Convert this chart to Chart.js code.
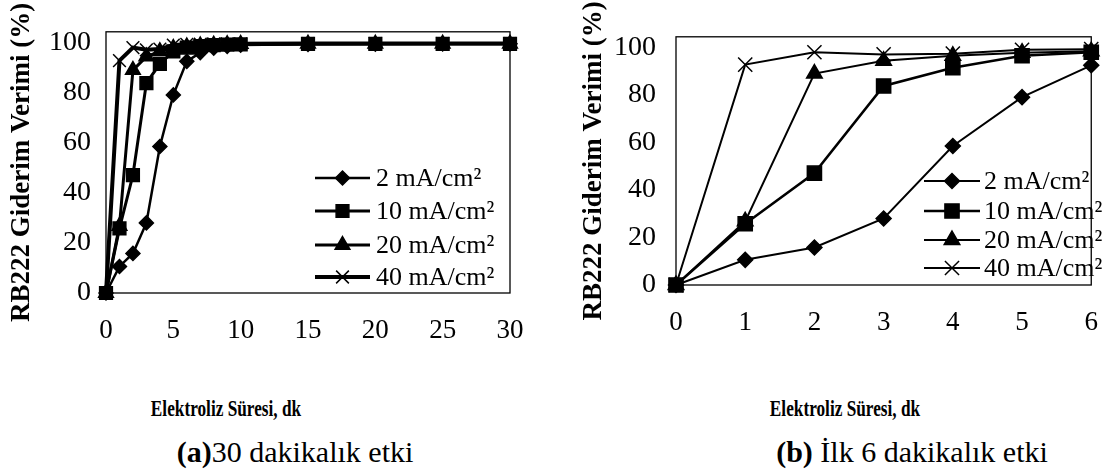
<!DOCTYPE html>
<html><head><meta charset="utf-8">
<script src="https://cdn.jsdelivr.net/npm/chart.js@4.4.1/dist/chart.umd.min.js"></script>
<style>
html,body{margin:0;padding:0;background:#fff;width:1120px;height:472px;overflow:hidden;position:relative;}
canvas{position:absolute;top:0;}
.t{position:absolute;white-space:nowrap;font-family:"Liberation Serif","Times New Roman",serif;color:#000;line-height:1;}
.xt{font-weight:bold;font-size:23px;transform:translate(-50%,-50%) scaleX(0.75);}
.cap{font-size:30px;transform:translate(-50%,-50%);}
</style></head><body>
<canvas id="chartA" width="560" height="350" style="left:0px"></canvas>
<canvas id="chartB" width="560" height="350" style="left:560px"></canvas>
<div class="t xt" style="left:226px;top:408px">Elektroliz Süresi, dk</div>
<div class="t xt" style="left:845px;top:408px">Elektroliz Süresi, dk</div>
<div class="t cap" style="left:295px;top:452px"><b>(a)</b>30 dakikalık etki</div>
<div class="t cap" style="left:912px;top:452px"><b>(b)</b> İlk 6 dakikalık etki</div>
<script>
// ---- data ----
const times = [0, 1, 2, 3, 4, 5, 6, 7, 8, 9, 10, 15, 20, 25, 30];
const eff2  = [0, 10.6, 15.8, 28.0, 58.5, 79.1, 92.5, 96.0, 97.8, 98.5, 99.0, 99.3, 99.4, 99.5, 99.5];
const eff10 = [0, 25.8, 47.1, 83.8, 91.5, 96.5, 98.0, 98.6, 99.0, 99.2, 99.3, 99.5, 99.5, 99.5, 99.5];
const eff20 = [0, 26.8, 89.0, 94.4, 96.5, 97.8, 98.4, 98.8, 99.1, 99.3, 99.4, 99.5, 99.5, 99.5, 99.5];
const eff40 = [0, 92.8, 98.0, 97.1, 97.4, 99.0, 99.3, 99.4, 99.5, 99.5, 99.5, 99.6, 99.6, 99.6, 99.6];
const seriesLabels = ['2 mA/cm²', '10 mA/cm²', '20 mA/cm²', '40 mA/cm²'];
const yTickValues = [0, 20, 40, 60, 80, 100];
const yTitle = 'RB222 Giderim Verimi (%)';
const firstMinutes = 7; // panel (b): 0..6 min

// ---- styles ----
const series = [eff2, eff10, eff20, eff40];
const markers = ['rectRot', 'rect', 'triangle', 'crossRot'];
const FONT = '"Liberation Serif","Times New Roman",serif';

function drawMark(ctx, style, x, y, r) {
  ctx.beginPath();
  if (style === 'rectRot') {
    ctx.moveTo(x - r, y); ctx.lineTo(x, y - r); ctx.lineTo(x + r, y); ctx.lineTo(x, y + r); ctx.closePath();
    ctx.fill(); ctx.stroke();
  } else if (style === 'rect') {
    const s = r * Math.SQRT1_2; ctx.rect(x - s, y - s, 2 * s, 2 * s); ctx.fill(); ctx.stroke();
  } else if (style === 'triangle') {
    ctx.moveTo(x, y - r); ctx.lineTo(x + 0.866 * r, y + 0.5 * r); ctx.lineTo(x - 0.866 * r, y + 0.5 * r); ctx.closePath();
    ctx.fill(); ctx.stroke();
  } else {
    const s = r * Math.SQRT1_2;
    ctx.moveTo(x - s, y - s); ctx.lineTo(x + s, y + s); ctx.moveTo(x + s, y - s); ctx.lineTo(x - s, y + s); ctx.stroke();
  }
}

const framePlugin = {
  id: 'frame',
  beforeDatasetsDraw(chart) {
    const a = chart.chartArea, ctx = chart.ctx;
    ctx.save(); ctx.strokeStyle = '#000'; ctx.lineWidth = 1.3;
    ctx.strokeRect(a.left, a.top, a.right - a.left, a.bottom - a.top);
    ctx.restore();
  }
};

const legendPlugin = {
  id: 'lineLegend',
  afterDraw(chart, args, o) {
    const ctx = chart.ctx;
    ctx.save();
    chart.data.datasets.forEach((ds, i) => {
      const y = o.rows[i];
      ctx.strokeStyle = '#000'; ctx.fillStyle = '#000';
      ctx.lineWidth = ds.borderWidth;
      ctx.beginPath(); ctx.moveTo(o.x0, y); ctx.lineTo(o.x1, y); ctx.stroke();
      ctx.lineWidth = 1.5;
      drawMark(ctx, ds.pointStyle, (o.x0 + o.x1) / 2, y, ds.pointRadius);
      ctx.font = o.fontSize + 'px ' + FONT;
      ctx.textBaseline = 'middle'; ctx.textAlign = 'left';
      ctx.fillText(ds.label, o.textX, y + 1);
    });
    ctx.restore();
  }
};

function makeChart(id, n, cfg) {
  return new Chart(document.getElementById(id), {
    type: 'line',
    data: {
      datasets: series.map((s, i) => ({
        label: seriesLabels[i],
        data: times.slice(0, n).map((t, j) => ({ x: t, y: s[j] })),
        borderColor: '#000', backgroundColor: '#000',
        borderWidth: cfg.lw[i],
        pointStyle: markers[i], pointRadius: cfg.pr[i], pointHoverRadius: cfg.pr[i],
        pointBackgroundColor: '#000', pointBorderColor: '#000', pointBorderWidth: 1.5,
        tension: 0, clip: false, order: 3 - i
      }))
    },
    options: {
      responsive: false, animation: false, events: [],
      layout: { padding: cfg.pad },
      plugins: { legend: { display: false }, tooltip: { enabled: false }, lineLegend: cfg.legend },
      scales: {
        x: {
          type: 'linear', min: 0, max: cfg.xmax,
          grid: { display: false, drawTicks: false }, border: { display: false },
          ticks: { stepSize: cfg.xstep, padding: cfg.xpad, color: '#000', maxRotation: 0, autoSkip: false,
                   font: { family: FONT, size: 27 } },
          afterFit: s => { s.height = cfg.xh; }
        },
        y: {
          min: 0, max: cfg.ymax,
          grid: { display: false, drawTicks: false }, border: { display: false },
          ticks: { padding: cfg.ypad, color: '#000', autoSkip: false, font: { family: FONT, size: 28 } },
          afterBuildTicks: s => { s.ticks = yTickValues.map(v => ({ value: v })); },
          title: { display: true, text: yTitle, color: '#000',
                   font: { family: FONT, size: 27, weight: 'bold' }, padding: { top: cfg.tpad, bottom: 0 } },
          afterFit: s => { s.width = cfg.yw; }
        }
      }
    },
    plugins: [framePlugin, legendPlugin]
  });
}

makeChart('chartA', times.length, {
  xmax: 30, xstep: 5, ymax: 104.3,
  pad: { top: 3, right: 50, left: 0, bottom: 0 }, yw: 106, xh: 57, xpad: 22, ypad: 15, tpad: 6,
  lw: [2.5, 3, 3, 4], pr: [7, 9, 8.5, 9],
  legend: { x0: 315, x1: 370, textX: 376, rows: [178, 211, 245, 277], fontSize: 26 }
});
makeChart('chartB', firstMinutes, {
  xmax: 6, xstep: 1, ymax: 104.5,
  pad: { top: 6, right: 12, left: 0, bottom: 0 }, yw: 116, xh: 65, xpad: 22, ypad: 20, tpad: 18,
  lw: [2, 2.5, 2, 2], pr: [7.5, 10, 9, 10],
  legend: { x0: 364, x1: 420, textX: 424, rows: [181, 211, 240, 268], fontSize: 26 }
});
</script>
</body></html>
